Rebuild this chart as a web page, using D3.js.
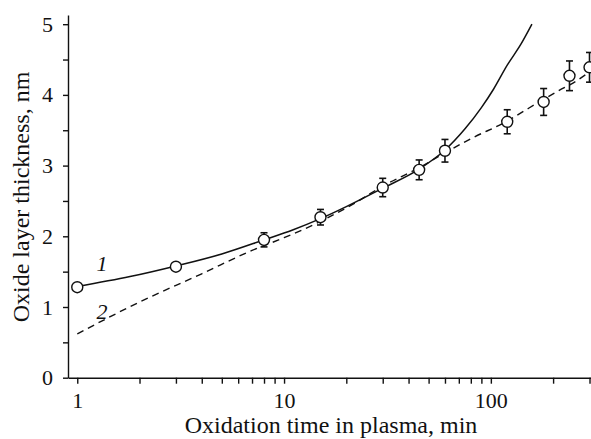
<!DOCTYPE html>
<html>
<head>
<meta charset="utf-8">
<script src="https://cdn.jsdelivr.net/npm/d3@7"></script>
<style>
  body { margin: 0; background: #fff; }
  svg { display: block; font-family: 'Liberation Serif', 'Times New Roman', serif; }
  .axis path, .axis line { stroke: #111; stroke-width: 1.4; }
  .axis text { font-size: 22px; fill: #111; font-family: 'Liberation Serif', serif; }
</style>
</head>
<body>
<div id="chart"></div>
<script>
// measured points (oxidation time, min -> thickness, nm)
const times = [1, 3, 8, 15, 30, 45, 60, 120, 180, 240, 300];
const thickness = [1.28, 1.57, 1.95, 2.27, 2.69, 2.94, 3.21, 3.62, 3.90, 4.27, 4.39];
const errors = [0.04, 0.05, 0.10, 0.11, 0.13, 0.14, 0.16, 0.17, 0.19, 0.21, 0.21];

// curve 1 (solid)
const curve1Time = [1, 1.8, 3, 5, 8, 11, 15, 20, 30, 45, 60, 75, 90, 103, 120, 140, 158];
const curve1Value = [1.29, 1.43, 1.58, 1.75, 1.95, 2.09, 2.25, 2.42, 2.68, 2.95, 3.22, 3.52, 3.82, 4.08, 4.42, 4.72, 5.0];

// curve 2 (dashed)
const curve2Time = [1, 2, 4, 7, 10, 15, 22, 30, 45, 60, 80, 120, 150, 210, 260, 305];
const curve2Value = [0.62, 1.07, 1.47, 1.8, 1.98, 2.21, 2.47, 2.71, 2.97, 3.18, 3.38, 3.63, 3.8, 4.05, 4.2, 4.34];

const xLabels = [1, 10, 100];
const yLabels = [0, 1, 2, 3, 4, 5];

const draw = () => {
  const width = 591, height = 439;
  const svg = d3.select('#chart')
    .append('svg')
    .attr('width', width)
    .attr('height', height);

  const x = d3.scaleLog()
    .domain([0.902, 305])
    .range([68, 591]);
  const y = d3.scaleLinear()
    .domain([0, 5.13])
    .range([377.7, 15]);

  // minor ticks 1..9 in every decade
  const xTickVals = [];
  [1, 10, 100].forEach(p => d3.range(1, 10).forEach(m => {
    if (m * p <= 300) xTickVals.push(m * p);
  }));
  const yTickVals = d3.range(0, 5.01, 0.5);

  const xAxis = g => g
    .call(d3.axisBottom(x)
      .tickValues(xTickVals)
      .tickSize(6)
      .tickSizeOuter(0)
      .tickPadding(9)
      .tickFormat(d => xLabels.includes(d) ? d : ''));
  const yAxis = g => g
    .call(d3.axisLeft(y)
      .tickValues(yTickVals)
      .tickSize(5)
      .tickSizeOuter(0)
      .tickPadding(10)
      .tickFormat(d => yLabels.includes(d) ? d : ''));

  svg.append('g')
    .attr('class', 'axis')
    .attr('transform', `translate(0, ${y(0)})`)
    .call(xAxis);
  svg.append('g')
    .attr('class', 'axis')
    .attr('transform', `translate(${x.range()[0]}, 0)`)
    .call(yAxis);

  const line = d3.line()
    .x(d => x(d[0]))
    .y(d => y(d[1]))
    .curve(d3.curveMonotoneX);

  svg.append('path')
    .datum(curve2Time.map((t, i) => [t, curve2Value[i]]))
    .attr('d', line)
    .attr('fill', 'none')
    .attr('stroke', '#111')
    .attr('stroke-width', 1.4)
    .attr('stroke-dasharray', '7,5');

  svg.append('path')
    .datum(curve1Time.map((t, i) => [t, curve1Value[i]]))
    .attr('d', line)
    .attr('fill', 'none')
    .attr('stroke', '#111')
    .attr('stroke-width', 1.5);

  const pts = times.map((t, i) => ({t: t, v: thickness[i], e: errors[i]}));

  const err = svg.selectAll('.err')
    .data(pts)
    .join('g')
    .attr('class', 'err')
    .attr('stroke', '#111')
    .attr('stroke-width', 1.6);
  err.append('line')
    .attr('x1', d => x(d.t)).attr('x2', d => x(d.t))
    .attr('y1', d => y(d.v - d.e)).attr('y2', d => y(d.v + d.e));
  err.append('line')
    .attr('x1', d => x(d.t) - 3.5).attr('x2', d => x(d.t) + 3.5)
    .attr('y1', d => y(d.v + d.e)).attr('y2', d => y(d.v + d.e));
  err.append('line')
    .attr('x1', d => x(d.t) - 3.5).attr('x2', d => x(d.t) + 3.5)
    .attr('y1', d => y(d.v - d.e)).attr('y2', d => y(d.v - d.e));

  svg.selectAll('.pt')
    .data(pts)
    .join('circle')
    .attr('class', 'pt')
    .attr('cx', d => x(d.t))
    .attr('cy', d => y(d.v))
    .attr('r', 5.5)
    .attr('fill', '#fff')
    .attr('stroke', '#111')
    .attr('stroke-width', 1.4);

  // curve numbers
  svg.append('text')
    .text('1')
    .attr('x', 102).attr('y', 271)
    .attr('text-anchor', 'middle')
    .attr('font-style', 'italic')
    .attr('font-size', 22)
    .attr('fill', '#111');
  svg.append('text')
    .text('2')
    .attr('x', 102).attr('y', 319)
    .attr('text-anchor', 'middle')
    .attr('font-style', 'italic')
    .attr('font-size', 22)
    .attr('fill', '#111');

  // axis titles
  svg.append('text')
    .text('Oxidation time in plasma, min')
    .attr('x', 331).attr('y', 433)
    .attr('text-anchor', 'middle')
    .attr('font-size', 24)
    .attr('fill', '#111');
  svg.append('text')
    .text('Oxide layer thickness, nm')
    .attr('transform', 'translate(29, 197) rotate(-90)')
    .attr('text-anchor', 'middle')
    .attr('font-size', 24)
    .attr('fill', '#111');
}

draw();
</script>
</body>
</html>
